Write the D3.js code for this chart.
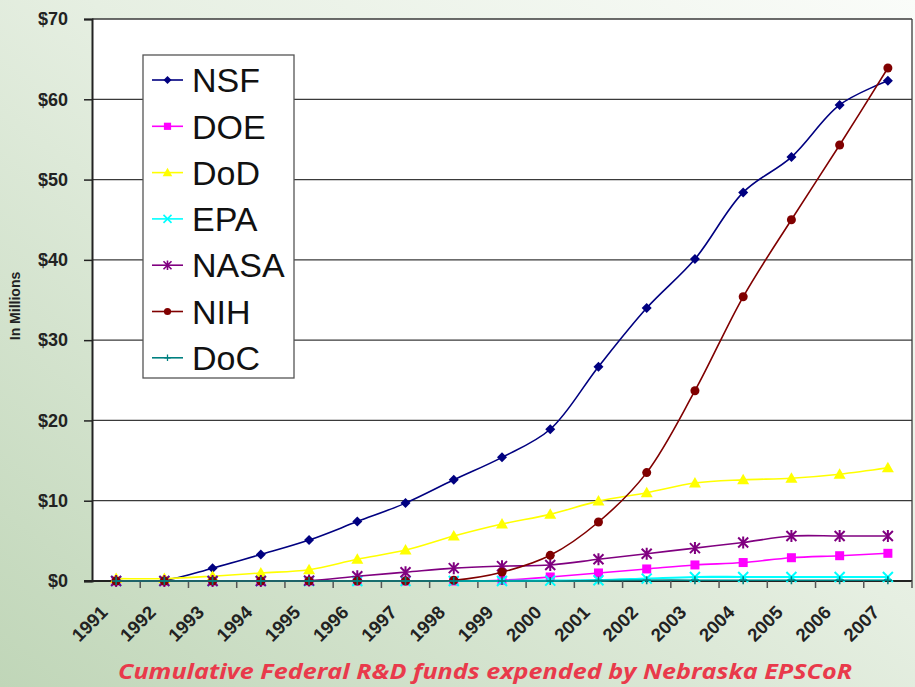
<!DOCTYPE html>
<html>
<head>
<meta charset="utf-8">
<script src="https://cdn.jsdelivr.net/npm/d3@7"></script>
<style>
  html, body { margin: 0; padding: 0; }
  svg { display: block; }
</style>
</head>
<body>
<div id="chart"></div>
<script>
var years = ["1991", "1992", "1993", "1994", "1995", "1996", "1997", "1998", "1999",
  "2000", "2001", "2002", "2003", "2004", "2005", "2006", "2007"];

var nsf  = [0.1, 0.1, 1.6, 3.3, 5.1, 7.4, 9.7, 12.6, 15.4, 18.9, 26.7, 34.0, 40.1, 48.4, 52.8, 59.3, 62.3];
var doe  = [0, 0, 0, 0, 0, 0, 0, 0, 0.1, 0.5, 1.0, 1.5, 2.0, 2.3, 2.9, 3.15, 3.45];
var dod  = [0.3, 0.3, 0.6, 1.0, 1.4, 2.7, 3.85, 5.6, 7.1, 8.3, 9.95, 11.0, 12.2, 12.6, 12.8, 13.3, 14.1];
var epa  = [0, 0, 0, 0, 0, 0, 0, 0, 0, 0.05, 0.1, 0.3, 0.5, 0.5, 0.5, 0.5, 0.5];
var nasa = [0, 0, 0, 0, 0.05, 0.6, 1.1, 1.6, 1.85, 2.0, 2.7, 3.4, 4.1, 4.8, 5.6, 5.6, 5.6];
var nih  = [0, 0, 0, 0, 0, 0, 0, 0.1, 1.1, 3.2, 7.35, 13.5, 23.7, 35.4, 45.0, 54.3, 63.9];
var doc  = [0, 0, 0, 0, 0, 0, 0, 0, 0, 0, 0.05, 0.1, 0.1, 0.1, 0.1, 0.1, 0.1];

var yTicks = [0, 10, 20, 30, 40, 50, 60, 70];

var series = [
  {name: "NSF",  values: nsf,  color: "#000080", marker: "diamond"},
  {name: "DOE",  values: doe,  color: "#ff00ff", marker: "square"},
  {name: "DoD",  values: dod,  color: "#ffff00", marker: "triangle"},
  {name: "EPA",  values: epa,  color: "#00ffff", marker: "x"},
  {name: "NASA", values: nasa, color: "#800080", marker: "star"},
  {name: "NIH",  values: nih,  color: "#800000", marker: "circle"},
  {name: "DoC",  values: doc,  color: "#008080", marker: "plus"}
];

var W = 915, H = 687;
var margin = {top: 19, right: 3, bottom: 106, left: 92};
var width = W - margin.left - margin.right,
  height = H - margin.top - margin.bottom;

var svg = d3.select("#chart").append("svg")
  .attr("width", W)
  .attr("height", H);

// slide background
var defs = svg.append("defs");
var grad = defs.append("linearGradient")
  .attr("id", "bg")
  .attr("x1", "0").attr("y1", "1")
  .attr("x2", "1").attr("y2", "0");
grad.append("stop").attr("offset", "0").attr("stop-color", "#c0d6b8");
grad.append("stop").attr("offset", "0.55").attr("stop-color", "#e6efe2");
grad.append("stop").attr("offset", "1").attr("stop-color", "#fafcf9");

svg.append("rect")
  .attr("width", W)
  .attr("height", H)
  .attr("fill", "url(#bg)");

var g = svg.append("g")
  .attr("transform", "translate(" + margin.left + "," + margin.top + ")");

var x = d3.scaleBand()
  .domain(years)
  .range([0, width]);

var y = d3.scaleLinear()
  .domain([0, 70])
  .range([height, 0]);

g.append("rect")
  .attr("width", width)
  .attr("height", height)
  .attr("fill", "#fff");

// gridlines
g.selectAll(".grid")
  .data(yTicks.filter(function (d) { return d > 0; }))
  .enter().append("line")
  .attr("class", "grid")
  .attr("x1", 0)
  .attr("x2", width)
  .attr("y1", function (d) { return y(d); })
  .attr("y2", function (d) { return y(d); })
  .attr("stroke", "#3a3a3a")
  .attr("stroke-width", 1.3);

g.append("line")
  .attr("x1", width).attr("x2", width)
  .attr("y1", 0).attr("y2", height)
  .attr("stroke", "#3a3a3a")
  .attr("stroke-width", 1.3);

// y axis
var yAxis = g.append("g")
  .call(d3.axisLeft(y)
    .tickValues(yTicks)
    .tickSize(8)
    .tickPadding(16)
    .tickFormat(function (d) { return "$" + d; }));
yAxis.select(".domain").attr("stroke", "#222").attr("stroke-width", 2);
yAxis.selectAll(".tick line").attr("stroke", "#222").attr("stroke-width", 1.5);
yAxis.selectAll("text")
  .attr("font-family", "Liberation Sans, Arial, sans-serif")
  .attr("font-weight", "bold")
  .attr("font-size", 18)
  .attr("fill", "#222");

// x axis, ticks between categories
var xAxis = g.append("g")
  .attr("transform", "translate(0," + height + ")");
xAxis.append("line")
  .attr("x1", -8).attr("x2", width)
  .attr("stroke", "#222")
  .attr("stroke-width", 2);
xAxis.selectAll(".xtick")
  .data(years.slice(1).concat(["end"]))
  .enter().append("line")
  .attr("class", "xtick")
  .attr("x1", function (d, i) { return x.step() * (i + 1); })
  .attr("x2", function (d, i) { return x.step() * (i + 1); })
  .attr("y1", 0)
  .attr("y2", 7)
  .attr("stroke", "#555")
  .attr("stroke-width", 1.5);
xAxis.selectAll(".xlabel")
  .data(years)
  .enter().append("text")
  .attr("class", "xlabel")
  .attr("transform", function (d) {
    return "translate(" + (x(d) + x.bandwidth() / 2 - 12) + ",28) rotate(-45)";
  })
  .attr("text-anchor", "end")
  .attr("dy", "0.35em")
  .attr("font-family", "Liberation Sans, Arial, sans-serif")
  .attr("font-weight", "bold")
  .attr("font-size", 18.5)
  .attr("fill", "#222")
  .text(function (d) { return d; });

// y axis title
svg.append("text")
  .attr("transform", "translate(20,306) rotate(-90)")
  .attr("text-anchor", "middle")
  .attr("font-family", "Liberation Sans, Arial, sans-serif")
  .attr("font-weight", "bold")
  .attr("font-size", 14)
  .attr("fill", "#222")
  .text("In Millions");

function drawMarker(sel, type, color) {
  if (type === "diamond") {
    sel.append("path").attr("d", "M0,-5L5,0L0,5L-5,0Z").attr("fill", color);
  } else if (type === "square") {
    sel.append("rect").attr("x", -4.5).attr("y", -4.5).attr("width", 9).attr("height", 9).attr("fill", color);
  } else if (type === "triangle") {
    sel.append("path").attr("d", "M0,-6L6,4.5L-6,4.5Z").attr("fill", color);
  } else if (type === "circle") {
    sel.append("circle").attr("r", 4.5).attr("fill", color);
  } else if (type === "x") {
    sel.append("path").attr("d", "M-5,-5L5,5M-5,5L5,-5").attr("stroke", color).attr("stroke-width", 2).attr("fill", "none");
  } else if (type === "star") {
    sel.append("path").attr("d", "M-5,-5L5,5M-5,5L5,-5M0,-6L0,6").attr("stroke", color).attr("stroke-width", 2).attr("fill", "none");
  } else if (type === "plus") {
    sel.append("path").attr("d", "M-4,0L4,0M0,-4L0,4").attr("stroke", color).attr("stroke-width", 1.6).attr("fill", "none");
  }
}

var line = d3.line()
  .x(function (d, i) { return x(years[i]) + x.bandwidth() / 2; })
  .y(function (d) { return y(d); })
  .curve(d3.curveCatmullRom.alpha(0.5));

series.forEach(function (s) {
  var sg = g.append("g").attr("class", "series");
  sg.append("path")
    .datum(s.values)
    .attr("d", line)
    .attr("fill", "none")
    .attr("stroke", s.color)
    .attr("stroke-width", s.marker === "x" ? 2.2 : 1.6);
  sg.selectAll(".pt")
    .data(s.values)
    .enter().append("g")
    .attr("class", "pt")
    .attr("transform", function (d, i) {
      return "translate(" + (x(years[i]) + x.bandwidth() / 2) + "," + y(d) + ")";
    })
    .each(function () { drawMarker(d3.select(this), s.marker, s.color); });
});

// legend
var legend = svg.append("g").attr("transform", "translate(143,55)");
legend.append("rect")
  .attr("width", 151)
  .attr("height", 323)
  .attr("fill", "#fff")
  .attr("stroke", "#555")
  .attr("stroke-width", 1.3);
var item = legend.selectAll(".item")
  .data(series)
  .enter().append("g")
  .attr("class", "item")
  .attr("transform", function (d, i) { return "translate(0," + (25 + i * 46.3) + ")"; });
item.append("line")
  .attr("x1", 9).attr("x2", 40)
  .attr("stroke", function (d) { return d.color; })
  .attr("stroke-width", 1.6);
item.each(function (d) {
  var m = d3.select(this).append("g").attr("transform", "translate(24.5,0) scale(0.8)");
  drawMarker(m, d.marker, d.color);
});
item.append("text")
  .attr("x", 49)
  .attr("dy", "0.36em")
  .attr("font-family", "Liberation Sans, Arial, sans-serif")
  .attr("font-size", 34)
  .attr("fill", "#111")
  .text(function (d) { return d.name; });

// caption
svg.append("text")
  .attr("x", 485)
  .attr("y", 679)
  .attr("text-anchor", "middle")
  .attr("font-family", "'Open Sans', Lato, sans-serif")
  .attr("font-style", "italic")
  .attr("font-weight", "bold")
  .attr("font-size", 22)
  .attr("textLength", 734)
  .attr("lengthAdjust", "spacingAndGlyphs")
  .attr("fill", "#e93a4b")
  .text("Cumulative Federal R&D funds expended by Nebraska EPSCoR");
</script>
</body>
</html>
